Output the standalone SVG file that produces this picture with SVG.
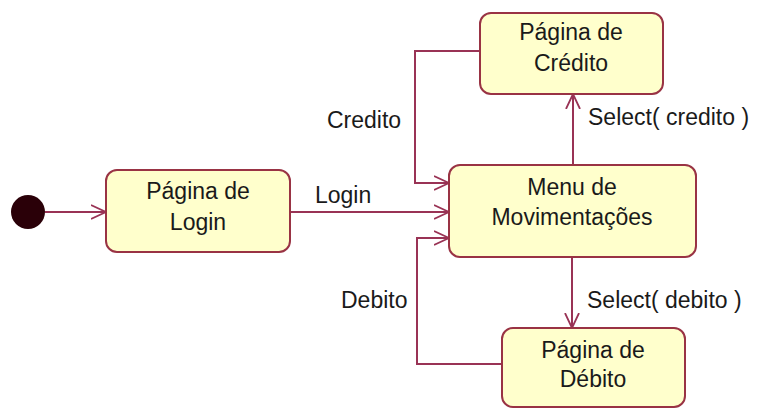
<svg xmlns="http://www.w3.org/2000/svg" width="765" height="409" viewBox="0 0 765 409">
<style>
.node rect{fill:#FFFFCC;stroke:#993344;stroke-width:2}
text{font-family:"Liberation Sans",Arial,sans-serif;font-size:23px;fill:#1a1a1a}
.c{text-anchor:middle}
.edge{fill:none;stroke:#993355;stroke-width:2}
</style>
<defs>
<marker id="arr" viewBox="0 0 16 16" refX="15" refY="8" markerWidth="16" markerHeight="16" markerUnits="userSpaceOnUse" orient="auto">
<path d="M0,1 L15,8 L0,15" fill="none" stroke="#993355" stroke-width="1.8"/>
</marker>
</defs>
<rect width="765" height="409" fill="#ffffff"/>
<g id="start"><circle cx="28" cy="212" r="17" fill="#2a0008"/></g>
<g id="connectors">
<path class="edge" d="M45,212 H106" marker-end="url(#arr)"/>
<path class="edge" d="M290,212 H449" marker-end="url(#arr)"/>
<path class="edge" d="M480,51 H415 V183 H449" marker-end="url(#arr)"/>
<path class="edge" d="M502,364 H417 V238 H449" marker-end="url(#arr)"/>
<path class="edge" d="M573,165 V94" marker-end="url(#arr)"/>
<path class="edge" d="M572,257 V328" marker-end="url(#arr)"/>
<text x="315" y="203">Login</text>
<text x="327" y="128">Credito</text>
<text x="341" y="308">Debito</text>
<text x="588" y="125">Select( credito )</text>
<text x="587" y="308">Select( debito )</text>
</g>
<g id="login" class="node"><rect x="106" y="170" width="184" height="82" rx="11"/>
<text class="c" x="198" y="199">Página de</text><text class="c" x="198" y="230">Login</text></g>
<g id="menu" class="node"><rect x="449" y="165" width="247" height="92" rx="11"/>
<text class="c" x="572" y="195">Menu de</text><text class="c" x="572" y="225">Movimentações</text></g>
<g id="credito" class="node"><rect x="480" y="13" width="183" height="81" rx="11"/>
<text class="c" x="571" y="40">Página de</text><text class="c" x="571" y="71">Crédito</text></g>
<g id="debito" class="node"><rect x="502" y="328" width="183" height="79" rx="11"/>
<text class="c" x="593" y="358">Página de</text><text class="c" x="593" y="387">Débito</text></g>
</svg>
